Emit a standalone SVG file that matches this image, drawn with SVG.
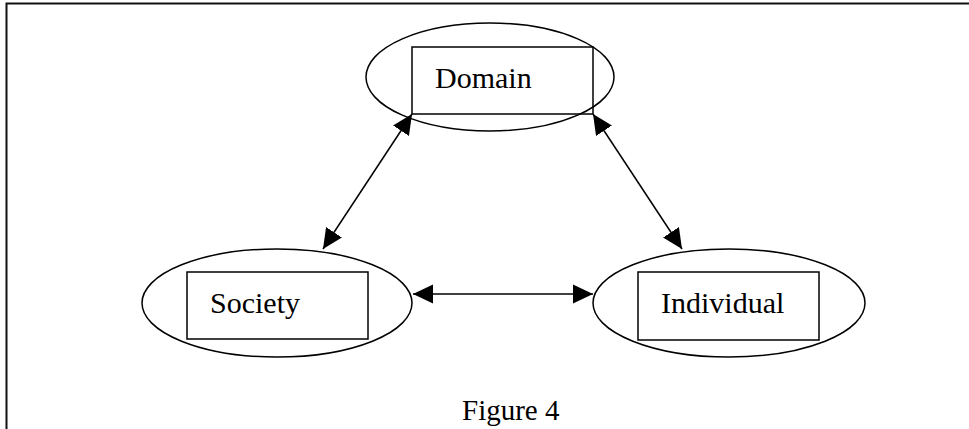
<svg xmlns="http://www.w3.org/2000/svg" width="969" height="429" viewBox="0 0 969 429">
  <style>
    .oval { fill: none; stroke: #000; stroke-width: 1.5; }
    .box { fill: none; stroke: #000; stroke-width: 1.5; }
    .label { font-family: "Liberation Serif", "Times New Roman", serif; font-size: 30px; fill: #000; }
    .link { stroke: #000; stroke-width: 1.5; fill: none; marker-start: url(#head); marker-end: url(#head); }
    .frame { stroke: #111; stroke-width: 2; fill: none; }
  </style>
  <defs>
    <marker id="head" markerUnits="userSpaceOnUse" markerWidth="20" markerHeight="20" viewBox="0 0 20 20" refX="20" refY="10" orient="auto-start-reverse">
      <path d="M0,0.5 L20,10 L0,19.5 Z" fill="#000"/>
    </marker>
  </defs>

  <!-- page frame (open on right and bottom) -->
  <path class="frame" d="M969,3.5 H6.5 V429"/>

  <g id="connectors">
    <line class="link" x1="412" y1="114" x2="323" y2="249"/>
    <line class="link" x1="593" y1="114" x2="682" y2="249"/>
    <line class="link" x1="413" y1="294" x2="593" y2="294"/>
  </g>

  <g id="domain">
    <ellipse class="oval" cx="490" cy="77" rx="124" ry="54"/>
    <rect class="box" x="412" y="47" width="181" height="67"/>
    <text class="label" x="435" y="88">Domain</text>
  </g>

  <g id="society">
    <ellipse class="oval" cx="277" cy="303" rx="135" ry="54"/>
    <rect class="box" x="187" y="272" width="181" height="67"/>
    <text class="label" x="210" y="313">Society</text>
  </g>

  <g id="individual">
    <ellipse class="oval" cx="729" cy="303" rx="136" ry="54"/>
    <rect class="box" x="638" y="272" width="181" height="68"/>
    <text class="label" x="661" y="313">Individual</text>
  </g>

  <text class="label" x="462" y="420" style="font-size:29px">Figure 4</text>
</svg>
